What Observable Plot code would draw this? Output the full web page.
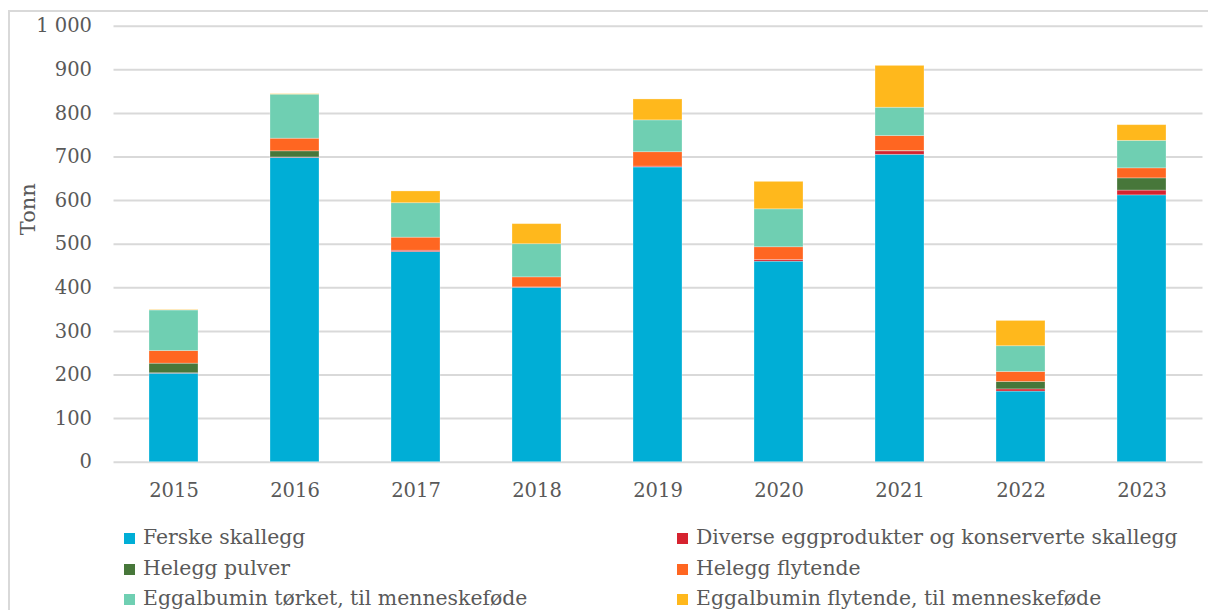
<!DOCTYPE html>
<html>
<head>
<meta charset="utf-8">
<script src="https://cdn.jsdelivr.net/npm/d3@7"></script>
<script src="https://cdn.jsdelivr.net/npm/@observablehq/plot@0.6"></script>
<style>
  html, body { margin: 0; padding: 0; background: #fff; }
  #wrap { position: relative; width: 1208px; height: 610px; overflow: hidden; }
  #frame { position: absolute; left: 8px; top: 10px; width: 1300px; height: 700px;
           border-left: 2px solid #d9d9d9; border-top: 2px solid #d9d9d9; }
  #chart { position: absolute; left: 0; top: 0; }
  .leg { position: absolute; font-family: "DejaVu Serif", serif; font-size: 20.4px; color: #595959;
         white-space: nowrap; line-height: 22px; }
  .leg span.sw { display: inline-block; width: 11px; height: 11px; margin-right: 8px; vertical-align: 0px; }
</style>
</head>
<body>
<div id="wrap">
  <div id="frame"></div>
  <div id="chart"></div>
  <div id="legend"></div>
</div>
<script>
const years = ["2015","2016","2017","2018","2019","2020","2021","2022","2023"];
const seriesNames = [
  "Ferske skallegg",
  "Diverse eggprodukter og konserverte skallegg",
  "Helegg pulver",
  "Helegg flytende",
  "Eggalbumin tørket, til menneskeføde",
  "Eggalbumin flytende, til menneskeføde"
];
const seriesColors = ["#00aed6", "#d6232f", "#47773a", "#ff6621", "#6fcfb2", "#ffb81c"];
const ferske        = [203, 698, 482, 400, 676, 460, 705, 162, 612];
const diverse       = [1,   1,   3,   1,   2,   4,   8,   5,   11];
const heleggPulver  = [22,  14,  0,   0,   0,   0,   1,   17,  28];
const heleggFlyt    = [29,  29,  30,  23,  33,  29,  34,  23,  23];
const albuminTorket = [93,  101, 79,  76,  73,  87,  65,  59,  63];
const albuminFlyt   = [1,   1,   27,  46,  48,  63,  96,  58,  36];
const yTicks = [0, 100, 200, 300, 400, 500, 600, 700, 800, 900, 1000];

const seriesValues = [ferske, diverse, heleggPulver, heleggFlyt, albuminTorket, albuminFlyt];
const rows = [];
seriesNames.forEach((name, si) => {
  years.forEach((y, yi) => rows.push({year: y, series: name, value: seriesValues[si][yi]}));
});

const fmt = d3.formatLocale({thousands: "\u00a0", grouping: [3], decimal: ","}).format(",");

const chart = Plot.plot({
  width: 1208,
  height: 520,
  marginLeft: 113.5,
  marginRight: 5.5,
  marginTop: 25.7,
  marginBottom: 58.3,
  style: {fontFamily: "DejaVu Serif, serif", fontSize: "19.5px", color: "#595959", background: "transparent"},
  x: {domain: years, paddingInner: 0.595, paddingOuter: 0.2975, label: null},
  y: {domain: [0, 1000], ticks: yTicks, label: null},
  color: {domain: seriesNames, range: seriesColors},
  marks: [
    Plot.ruleY(yTicks, {stroke: "#d9d9d9", strokeWidth: 2}),
    Plot.barY(rows, {x: "year", y: "value", fill: "series", order: seriesNames, stroke: "#ffffff", strokeOpacity: 0.35, strokeWidth: 0.8}),
    Plot.axisY(yTicks, {tickSize: 0, tickPadding: 22, tickFormat: fmt, label: null, fontSize: 19.5}),
    Plot.axisX({tickSize: 0, tickPadding: 21, label: null, fontSize: 19.5}),
    Plot.text(["Tonn"], {frameAnchor: "left", dx: -86, dy: -9, rotate: -90, fontSize: 21, fill: "#595959"})
  ]
});
document.getElementById("chart").appendChild(chart);

const legend = document.getElementById("legend");
const legPos = [[124, 526], [677, 526], [124, 557], [677, 557], [124, 587], [677, 587]];
seriesNames.forEach((name, i) => {
  const d = document.createElement("div");
  d.className = "leg";
  d.style.left = legPos[i][0] + "px";
  d.style.top = legPos[i][1] + "px";
  const sw = document.createElement("span");
  sw.className = "sw";
  sw.style.background = seriesColors[i];
  d.appendChild(sw);
  d.appendChild(document.createTextNode(name));
  legend.appendChild(d);
});
</script>
</body>
</html>
